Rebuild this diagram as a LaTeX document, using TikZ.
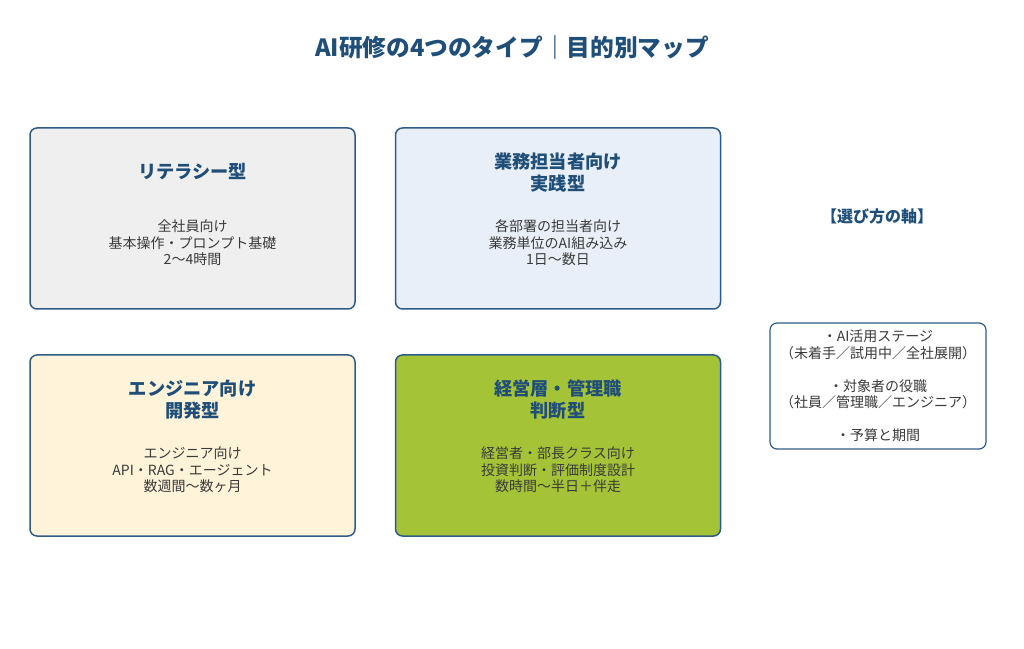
\documentclass[tikz,border=0pt]{standalone}
\usepackage{fontspec}
\setmainfont{Noto Sans CJK JP}
\usepackage{xcolor}
\usepackage{tikz}
\usetikzlibrary{calc}
\definecolor{bg}{HTML}{FFFFFF}
\definecolor{edge}{HTML}{2F5B87}
\definecolor{navy}{HTML}{1F4E79}
\definecolor{ink}{HTML}{3A3A3A}
\definecolor{grey}{HTML}{EFEFEF}
\definecolor{sky}{HTML}{E8EFF8}
\definecolor{cream}{HTML}{FFF3D9}
\definecolor{lime}{HTML}{A5C337}
\tikzset{
  card/.style={draw=edge, line width=1.5pt, rounded corners=7pt, minimum width=325pt, minimum height=181pt, inner sep=0pt},
  head/.style={text=navy, font=\fontsize{18.2}{22}\selectfont\bfseries, align=center},
  body/.style={text=ink, font=\fontsize{14}{16.5}\selectfont, align=center},
}
\begin{document}
\begin{tikzpicture}[x=1pt,y=1pt]
  \useasboundingbox[fill=bg] (0,0) rectangle (1024,648);
  \node[text=navy, font=\fontsize{23.7}{28}\selectfont\bfseries] (title) at (512,600) {AI研修の4つのタイプ｜目的別マップ};
  % four cards
  \node[card, fill=grey] (lit) at (192.5,429.5) {};
  \node[card, fill=sky] (prac) at (558,429.5) {};
  \node[card, fill=cream] (dev) at (192.5,202.5) {};
  \node[card, fill=lime] (mgmt) at (558,202.5) {};
  \node[head] (litH) at ($(lit)+(0,46.5)$) {リテラシー型};
  \node[body] (litB) at ($(lit)+(0,-24.5)$) {全社員向け\\基本操作・プロンプト基礎\\2〜4時間};
  \node[head] (pracH) at ($(prac)+(0,45.5)$) {業務担当者向け\\実践型};
  \node[body] (pracB) at ($(prac)+(0,-24.5)$) {各部署の担当者向け\\業務単位のAI組み込み\\1日〜数日};
  \node[head] (devH) at ($(dev)+(0,45.5)$) {エンジニア向け\\開発型};
  \node[body] (devB) at ($(dev)+(0,-24.5)$) {エンジニア向け\\API・RAG・エージェント\\数週間〜数ヶ月};
  \node[head] (mgmtH) at ($(mgmt)+(0,45.5)$) {経営層・管理職\\判断型};
  \node[body] (mgmtB) at ($(mgmt)+(0,-24.5)$) {経営者・部長クラス向け\\投資判断・評価制度設計\\数時間〜半日＋伴走};
  % selection axes
  \node[text=navy, font=\fontsize{16}{18}\selectfont\bfseries] (axisH) at (877,432) {【選び方の軸】};
  \node[draw=edge, fill=bg, line width=1.2pt, rounded corners=7pt, minimum width=216pt, minimum height=126pt, inner sep=0pt] (axis) at (878,262) {};
  \node[body] (axisB) at (axis) {・AI活用ステージ\\（未着手／試用中／全社展開）\\ \\・対象者の役職\\（社員／管理職／エンジニア）\\ \\・予算と期間};
\end{tikzpicture}
\end{document}
